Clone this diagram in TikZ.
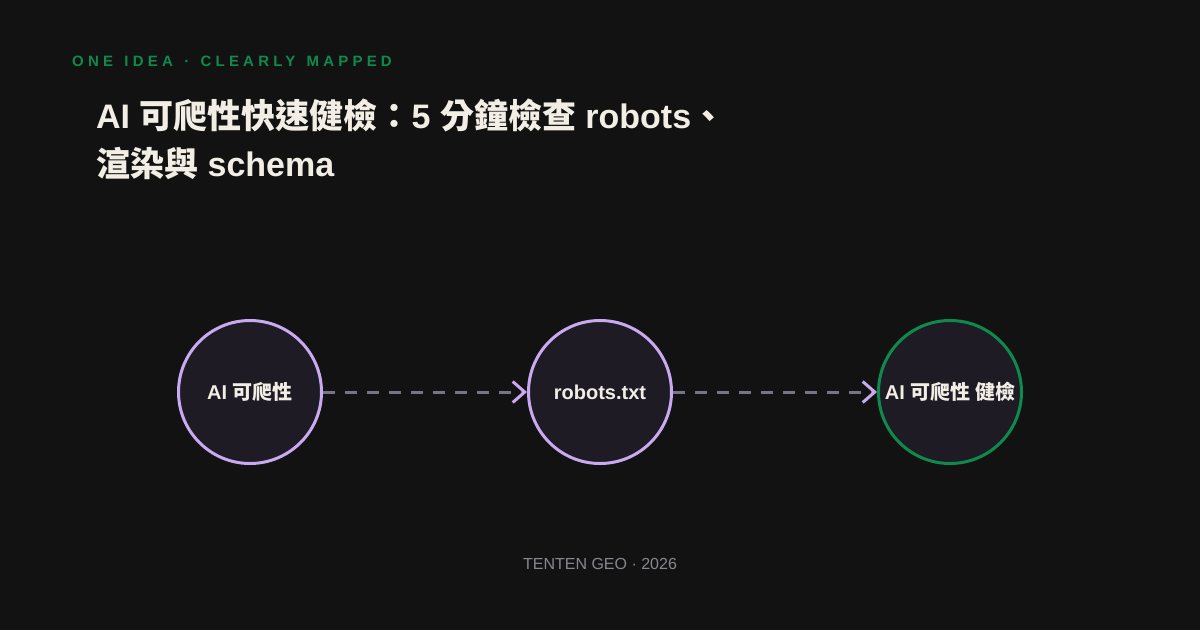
\documentclass[tikz,border=0pt]{standalone}
\usepackage{fontspec}
\setmainfont{Liberation Sans}
\newfontfamily\cjk{Noto Sans CJK TC}
\newfontfamily\spaced[LetterSpace=28]{Liberation Sans Bold}
\usetikzlibrary{arrows.meta}
\definecolor{bg}{HTML}{121212}
\definecolor{nodefill}{HTML}{1E1B24}
\definecolor{lav}{HTML}{C9AAF0}
\definecolor{grn}{HTML}{0E8A4C}
\definecolor{ink}{HTML}{F2EEE6}
\definecolor{dashc}{HTML}{7A7285}
\definecolor{foot}{HTML}{8A8690}
\newcommand\wsp{\hspace{3pt} }
\tikzset{
  circ/.style={circle, draw=lav, line width=3pt, fill=nodefill, minimum size=143pt, inner sep=0pt, text=ink, font=\bfseries\fontsize{20}{22}\selectfont},
  goal/.style={circ, draw=grn},
  flow/.style={draw=dashc, line width=3pt, dash pattern=on 12pt off 10pt, -{Straight Barb[color=lav, length=12pt, width=21pt, line width=3pt]}},
}
\begin{document}
\begin{tikzpicture}[x=1pt,y=-1pt]
\fill[bg] (0,0) rectangle (1200,630);
\useasboundingbox (0,0) rectangle (1200,630);
\node[anchor=base west, text=grn, font=\fontsize{15}{17}\selectfont, inner sep=0pt] (kicker) at (72,66) {\spaced ONE\wsp IDEA\wsp ·\wsp CLEARLY\wsp MAPPED};
\node[anchor=base west, text=ink, font=\bfseries\fontsize{34}{39}\selectfont, inner sep=0pt] (title1) at (96,128) {AI {\cjk\bfseries 可爬性快速健檢：}5 {\cjk\bfseries 分鐘檢查} robots{\cjk\bfseries 、}};
\node[anchor=base west, text=ink, font=\bfseries\fontsize{34}{39}\selectfont, inner sep=0pt] (title2) at (96,176) {{\cjk\bfseries 渲染與} schema};
\node[circ] (a) at (250,392) {AI {\cjk\bfseries 可爬性}};
\node[circ] (b) at (600,392) {robots.txt};
\node[goal] (c) at (950,392) {AI {\cjk\bfseries 可爬性 健檢}};
\draw[flow] (a) -- (b);
\draw[flow] (b) -- (c);
\node[text=foot, font=\fontsize{16}{18}\selectfont, inner sep=0pt] (footer) at (600,564) {TENTEN GEO · 2026};
\end{tikzpicture}
\end{document}
